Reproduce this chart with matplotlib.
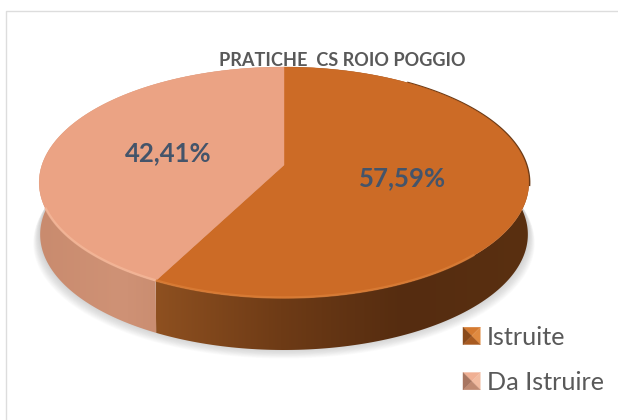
import numpy as np
import matplotlib
matplotlib.use("Agg")
import matplotlib.pyplot as plt
from matplotlib.patches import Polygon, Patch
from matplotlib.legend_handler import HandlerBase
from matplotlib.colors import LinearSegmentedColormap

title = "PRATICHE  CS ROIO POGGIO"
categories = ["Istruite", "Da Istruire"]
values = [57.59, 42.41]
labels = ["57,59%", "42,41%"]
top_colors = ["#CC6B26", "#EBA384"]
rim_colors = ["#DE8139", "#F7BC9E"]
side_stops = [["#8E5020", "#6E3B16", "#552C10", "#5A3011"],
              ["#C98B6E", "#CF9276", "#C4876A", "#BD8064"]]
bevel_colors = [["#D57A30", "#E08A40", "#A85A20", "#8A4A1A"],
                ["#F0B094", "#F2BBA0", "#C08A72", "#A87560"]]

plt.rcParams['font.family'] = ['Lato', 'DejaVu Sans']

fig = plt.figure(figsize=(6.18, 4.2), dpi=100)
ax = fig.add_axes([0, 0, 1, 1])
ax.set_xlim(0, 618)
ax.set_ylim(420, 0)
ax.axis("off")

# chart frame
ax.plot([5.5, 5.5, 618], [420, 10.5, 10.5], color="#DDDDDD", lw=1, zorder=1)

# title lies behind the pie
ax.text(342.5, 61, title, ha="center", va="center", fontsize=13.1, fontweight="bold",
        color="#595959", zorder=2)

# projection of the disc to the screen
CX, CY, W, S, K = 284, 165, 242, 112.85, 0.1515
DROP, NARROW = 52, 0.996


def project(theta):
    u, v = np.sin(theta), np.cos(theta)
    d = 1 + K * v
    return CX + W * u / d, CY - S * v / d


def project_low(theta):
    x, y = project(theta)
    return CX + (x - CX) * NARROW, y + DROP


fractions = np.array(values) / sum(values)
edges = np.concatenate([[0], np.cumsum(fractions)]) * 2 * np.pi

# soft shadow under the pie
full = np.linspace(0, 2 * np.pi, 240)
sx, sy = project_low(full)
for g in np.linspace(17, 1, 14):
    ax.add_patch(Polygon(np.c_[CX + (sx - CX) * (1 + g / 600), sy + g * 0.62 - 2],
                         closed=True, fc="#8A8A8A", ec="none", alpha=0.03, zorder=3))

# side walls
for i in range(len(values)):
    th = np.linspace(edges[i], edges[i + 1], 200)
    tx, ty = project(th)
    bx, by = project_low(th)
    poly = Polygon(np.r_[np.c_[tx, ty], np.c_[bx, by][::-1]], closed=True, fc="none", ec="none", zorder=4)
    ax.add_patch(poly)
    x0, x1 = tx.min(), tx.max()
    cmap = LinearSegmentedColormap.from_list("side", side_stops[i])
    grad = np.linspace(0, 1, 256).reshape(1, -1)
    im = ax.imshow(grad, extent=[x0, x1, 370, 60], cmap=cmap, aspect="auto", zorder=4.5)
    im.set_clip_path(poly)
ax.set_xlim(0, 618)
ax.set_ylim(420, 0)

# top faces
for i in range(len(values)):
    th = np.linspace(edges[i], edges[i + 1], 200)
    tx, ty = project(th)
    pts = np.r_[[[CX, CY]], np.c_[tx, ty]]
    ax.add_patch(Polygon(pts, closed=True, fc=top_colors[i], ec=top_colors[i], lw=0.3, zorder=5))
    # bevel along the visible front rim
    front = th[(np.cos(th) < -0.35)]
    if i == 0:
        front = front[front > np.radians(135)]
    if front.size:
        fx, fy = project(front)
        ax.plot(fx, fy - 0.5, color=rim_colors[i], lw=1.8, alpha=0.65, zorder=6, solid_capstyle="butt")

# dark edge on the upper right of the disc
th = np.linspace(np.radians(35), np.radians(100), 80)
rx, ry = project(th)
ax.plot(rx + 0.6, ry, color="#6B3A16", lw=1.4, zorder=4.8)

# data labels
label_xy = [(402, 178), (168, 153)]
for txt, (lx, ly) in zip(labels, label_xy):
    ax.text(lx, ly, txt, ha="center", va="center", fontsize=18.5, fontweight="bold",
            color="#44546A", zorder=7)


class BevelHandler(HandlerBase):
    def __init__(self, colors):
        super().__init__()
        self.colors = colors

    def create_artists(self, legend, orig, xd, yd, w, h, fs, trans):
        s = 12.5
        x0 = -xd + (w - s) / 2
        y0 = -yd + (h - s) / 2
        c = (x0 + s / 2, y0 + s / 2)
        a, b, d, e = (x0, y0 + s), (x0 + s, y0 + s), (x0 + s, y0), (x0, y0)
        tris = [(a, b), (b, d), (d, e), (e, a)]
        out = []
        for (p, q), col in zip(tris, self.colors):
            out.append(Polygon([p, q, c], closed=True, fc=col, ec=col, lw=0.2, transform=trans))
        return out


handles = [Patch(label=c) for c in categories]
leg = ax.legend(handles=handles, labels=categories,
                handler_map={handles[0]: BevelHandler(bevel_colors[0]),
                             handles[1]: BevelHandler(bevel_colors[1])},
                loc="lower left", bbox_to_anchor=(459 / 618, (420 - 394) / 420),
                bbox_transform=ax.transAxes, frameon=False, fontsize=18.2, labelcolor="#595959",
                borderpad=0, borderaxespad=0, handlelength=1.0, handletextpad=0.1, labelspacing=0.88)
leg.set_zorder(8)

fig.savefig("out.png", dpi=100)
